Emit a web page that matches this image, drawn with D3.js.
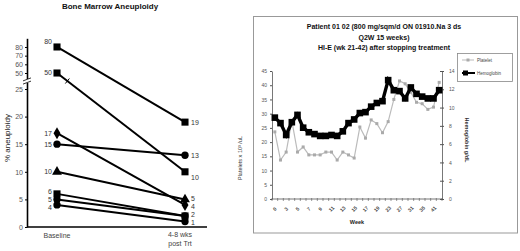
<!DOCTYPE html>
<html>
<head>
<meta charset="utf-8">
<script src="https://cdn.jsdelivr.net/npm/d3@7"></script>
<style>
  body { margin: 0; background: #fff; }
  svg { display: block; font-family: "Liberation Sans", Arial, sans-serif; }
</style>
</head>
<body>
<svg id="chart" width="520" height="251"></svg>
<script>
/* Left: aneuploidy before / after. Right: platelets + hemoglobin by week. */

var aneuGroups = ["Baseline", "post"];
var aneuBase = [80, 50, 17, 15, 10, 6, 5, 4];
var aneuPost = [19, 10, 4, 13, 5, 2, 2, 1];
var aneuShape = ["square", "square", "diamond", "circle", "triangle", "square", "circle", "circle"];
var aneuTicks = [0, 5, 10, 15, 20, 25, 50, 60, 70, 80];

var weeks = [0, 2, 3, 4, 5, 6, 7, 8, 9, 10, 11, 12, 13, 14, 15, 16, 17, 18, 19, 21,
             23, 25, 27, 29, 31, 33, 35, 37, 41, 42];
var platelets = [23.6, 13.7, 16.5, 27.5, 16.5, 18.3, 15.5, 15.5, 15.5, 16.5,
                 16.5, 13.7, 16.5, 15.5, 14.4, 25.3, 21.4, 27.8, 26.5, 23.3,
                 27.2, 35, 41.5, 40.5, 37.5, 34, 33.5, 31.5, 32.3, 41];
var hemoglobin = [8.9, 8.3, 7.0, 8.4, 9.2, 7.8, 7.3, 7.1, 6.9, 6.9,
                  7.0, 6.9, 7.4, 8.3, 8.7, 9.4, 9.5, 10.1, 10.5, 10.7,
                  13.0, 11.9, 11.8, 11.0, 12.2, 11.5, 11.2, 11.0, 11.0, 11.9];
var pltTicks = [0, 5, 10, 15, 20, 25, 30, 35, 40, 45];
var hgbTicks = [0, 2, 4, 6, 8, 10, 12, 14];

var d3 = window.d3;
var svg = d3.select("#chart");

/* ---------- left panel ---------- */
var L = svg.append("g");
var ax = 27, ay0 = 227;
var xL = d3.scalePoint().domain(aneuGroups).range([57, 185]);
var yL = d3.scaleLinear().domain([0, 25, 50, 90]).range([227, 89, 73, 38.3]);

L.append("text").attr("x", 110).attr("y", 9).attr("text-anchor", "middle")
  .attr("font-size", 8).attr("font-weight", "bold").attr("fill", "#111")
  .text("Bone Marrow Aneuploidy");

var yAxisL = L.append("g").attr("transform", "translate(" + ax + ",0)")
  .call(d3.axisLeft(yL).tickValues(aneuTicks).tickSize(2).tickSizeOuter(0));
yAxisL.select(".domain").attr("stroke", "#000").attr("stroke-width", 1.6);
yAxisL.selectAll(".tick line").attr("stroke", "#000");
yAxisL.selectAll(".tick text").attr("font-size", 7).attr("fill", "#555").attr("x", -4)
  .attr("font-family", "Liberation Sans, Arial, sans-serif");

/* axis break */
var brk = (yL(25) + yL(50)) / 2;
L.append("rect").attr("x", ax - 3).attr("y", brk - 2).attr("width", 6).attr("height", 4).attr("fill", "#fff");
[-1.6, 1.6].forEach(function (o) {
  L.append("line").attr("x1", ax - 4).attr("x2", ax + 4)
    .attr("y1", brk + o + 1.5).attr("y2", brk + o - 1.5)
    .attr("stroke", "#000").attr("stroke-width", 0.8);
});

L.append("line").attr("x1", ax).attr("x2", 207).attr("y1", ay0).attr("y2", ay0)
  .attr("stroke", "#000").attr("stroke-width", 1.6);

L.append("text").attr("transform", "translate(7," + 138 + ") rotate(-90)")
  .attr("text-anchor", "middle").attr("dominant-baseline", "central")
  .attr("font-size", 8).attr("fill", "#222").text("% aneuploidy");

L.append("text").attr("x", xL("Baseline")).attr("y", 238).attr("text-anchor", "middle")
  .attr("font-size", 7).attr("fill", "#444").text("Baseline");
L.append("text").attr("x", xL("post") - 5).attr("y", 237).attr("text-anchor", "middle")
  .attr("font-size", 7).attr("fill", "#444").text("4-8 wks");
L.append("text").attr("x", xL("post") - 5).attr("y", 245.5).attr("text-anchor", "middle")
  .attr("font-size", 7).attr("fill", "#444").text("post Trt");

var symType = { square: d3.symbolSquare, circle: d3.symbolCircle, diamond: d3.symbolDiamond, triangle: d3.symbolTriangle };
var symSize = { square: 50, circle: 42, diamond: 42, triangle: 42 };

aneuBase.forEach(function (b, i) {
  L.append("line")
    .attr("x1", xL("Baseline")).attr("y1", yL(b))
    .attr("x2", xL("post")).attr("y2", yL(aneuPost[i]))
    .attr("stroke", "#000").attr("stroke-width", 2);
});

/* small break tick where the 50 line leaves the upper scale */
(function () {
  var x1 = xL("Baseline"), y1 = yL(aneuBase[1]), x2 = xL("post"), y2 = yL(aneuPost[1]);
  var t = (brk - y1) / (y2 - y1);
  var bx = x1 + t * (x2 - x1);
  L.append("line").attr("x1", bx - 2).attr("x2", bx + 2).attr("y1", brk + 2.5).attr("y2", brk - 2.5)
    .attr("stroke", "#000").attr("stroke-width", 1);
})();

aneuBase.forEach(function (b, i) {
  var s = d3.symbol().type(symType[aneuShape[i]]).size(symSize[aneuShape[i]]);
  [[xL("Baseline"), yL(b)], [xL("post"), yL(aneuPost[i])]].forEach(function (p) {
    L.append("path").attr("d", s()).attr("transform", "translate(" + p[0] + "," + p[1] + ")").attr("fill", "#000");
  });
});

/* value labels, pushed apart symmetrically when crowded */
function spread(vals, minGap) {
  var items = vals.map(function (v) { return { v: v, y: yL(v) }; })
    .sort(function (a, b) { return a.y - b.y; });
  for (var it = 0; it < 60; it++) {
    for (var k = 1; k < items.length; k++) {
      var gap = items[k].y - items[k - 1].y;
      if (gap < minGap) {
        var push = (minGap - gap) / 2;
        items[k].y += push;
        items[k - 1].y -= push;
      }
    }
  }
  return items;
}
spread(Array.from(new Set(aneuBase)), 8).forEach(function (d) {
  L.append("text").attr("x", xL("Baseline") - 5).attr("y", d.y + (d.v === 80 ? -5 : 0))
    .attr("dy", "0.35em").attr("text-anchor", "end")
    .attr("font-size", 7).attr("fill", "#333").text(d.v);
});
spread(Array.from(new Set(aneuPost)), 8).forEach(function (d) {
  L.append("text").attr("x", xL("post") + 6).attr("y", d.y + (d.v === 10 ? 6 : 0))
    .attr("dy", "0.35em").attr("text-anchor", "start")
    .attr("font-size", 7).attr("fill", "#333").text(d.v);
});

/* ---------- right panel ---------- */
var R = svg.append("g");
R.append("rect").attr("x", 253.5).attr("y", 16.5).attr("width", 264).attr("height", 216.5)
  .attr("fill", "none").attr("stroke", "#999").attr("stroke-width", 1);

var titleLines = ["Patient 01 02 (800 mg/sqm/d ON 01910.Na 3 ds", "Q2W 15 weeks)", "HI-E (wk 21-42) after stopping treatment"];
titleLines.forEach(function (t, i) {
  R.append("text").attr("x", 384).attr("y", 27 + i * 10.3).attr("dy", "0.35em")
    .attr("text-anchor", "middle").attr("font-size", 7).attr("font-weight", "bold").attr("fill", "#111").text(t);
});

var xR = d3.scaleBand().domain(d3.range(weeks.length)).range([272, 442]);
var yP = d3.scaleLinear().domain([0, 45]).range([199, 71]);
var yH = d3.scaleLinear().domain([0, 14]).range([199, 71]);
function cx(i) { return xR(i) + xR.bandwidth() / 2; }

var la = R.append("g").attr("transform", "translate(272,0)")
  .call(d3.axisLeft(yP).tickValues(pltTicks).tickSize(2).tickSizeOuter(0));
var ra = R.append("g").attr("transform", "translate(442,0)")
  .call(d3.axisRight(yH).tickValues(hgbTicks).tickSize(2).tickSizeOuter(0));
[la, ra].forEach(function (a) {
  a.select(".domain").attr("stroke", "#555").attr("stroke-width", 0.8);
  a.selectAll(".tick line").attr("stroke", "#555");
  a.selectAll(".tick text").attr("font-size", 5).attr("fill", "#555")
    .attr("font-family", "Liberation Sans, Arial, sans-serif");
});
la.selectAll(".tick text").attr("x", -5);
ra.selectAll(".tick text").attr("x", 7);
ra.selectAll(".tick").append("line").attr("x1", -2).attr("x2", 0).attr("stroke", "#555");

R.append("line").attr("x1", 272).attr("x2", 442).attr("y1", 199).attr("y2", 199)
  .attr("stroke", "#555").attr("stroke-width", 0.8);
d3.range(weeks.length + 1).forEach(function (i) {
  var tx = 272 + i * xR.step();
  R.append("line").attr("x1", tx).attr("x2", tx).attr("y1", 198).attr("y2", 201)
    .attr("stroke", "#555").attr("stroke-width", 0.6);
});
weeks.forEach(function (w, i) {
  if (i % 2) return;
  R.append("text").attr("transform", "translate(" + cx(i) + ",209) rotate(-45)")
    .attr("text-anchor", "middle").attr("dy", "0.35em")
    .attr("font-size", 5).attr("font-weight", "bold").attr("fill", "#444").text(w);
});
R.append("text").attr("x", 357).attr("y", 222).attr("dy", "0.35em").attr("text-anchor", "middle")
  .attr("font-size", 5.5).attr("font-weight", "bold").attr("fill", "#222").text("Week");

R.append("text").attr("transform", "translate(240,158) rotate(-90)")
  .attr("text-anchor", "middle").attr("dominant-baseline", "central")
  .attr("font-size", 5.5).attr("fill", "#333").text("Platelets x 10\u00B3 /uL");
R.append("text").attr("transform", "translate(467,140) rotate(90)")
  .attr("text-anchor", "middle").attr("dominant-baseline", "central")
  .attr("font-size", 5.5).attr("font-weight", "bold").attr("fill", "#333").text("Hemoglobin g/dL");

/* platelets */
R.append("path").datum(platelets)
  .attr("d", d3.line().x(function (d, i) { return cx(i); }).y(function (d) { return yP(d); }))
  .attr("fill", "none").attr("stroke", "#bbb").attr("stroke-width", 1.2);
R.selectAll(".pm").data(platelets).enter().append("rect")
  .attr("x", function (d, i) { return cx(i) - 1.5; }).attr("y", function (d) { return yP(d) - 1.5; })
  .attr("width", 3).attr("height", 3).attr("fill", "#aaa");

/* hemoglobin */
R.append("path").datum(hemoglobin)
  .attr("d", d3.line().x(function (d, i) { return cx(i); }).y(function (d) { return yH(d); }))
  .attr("fill", "none").attr("stroke", "#000").attr("stroke-width", 3.4);
R.selectAll(".hm").data(hemoglobin).enter().append("rect")
  .attr("x", function (d, i) { return cx(i) - 3.3; }).attr("y", function (d) { return yH(d) - 3.3; })
  .attr("width", 6.6).attr("height", 6.6).attr("fill", "#000");

/* legend */
var lg = R.append("g").attr("transform", "translate(457,53)");
lg.append("rect").attr("x", 0.5).attr("y", 0.5).attr("width", 55).attr("height", 28)
  .attr("fill", "#fff").attr("stroke", "#888").attr("stroke-width", 0.8);
lg.append("line").attr("x1", 5).attr("x2", 17).attr("y1", 7).attr("y2", 7).attr("stroke", "#bbb").attr("stroke-width", 1);
lg.append("rect").attr("x", 9.5).attr("y", 5.5).attr("width", 3).attr("height", 3).attr("fill", "#aaa");
lg.append("text").attr("x", 20).attr("y", 7).attr("dy", "0.35em").attr("font-size", 4.5).attr("fill", "#444").text("Platelet");
lg.append("line").attr("x1", 5).attr("x2", 18).attr("y1", 20).attr("y2", 20).attr("stroke", "#000").attr("stroke-width", 2);
lg.append("rect").attr("x", 6).attr("y", 17.5).attr("width", 5).attr("height", 5).attr("fill", "#000");
lg.append("text").attr("x", 20).attr("y", 20).attr("dy", "0.35em").attr("font-size", 4.5).attr("fill", "#444").text("Hemoglobin");
</script>
</body>
</html>
